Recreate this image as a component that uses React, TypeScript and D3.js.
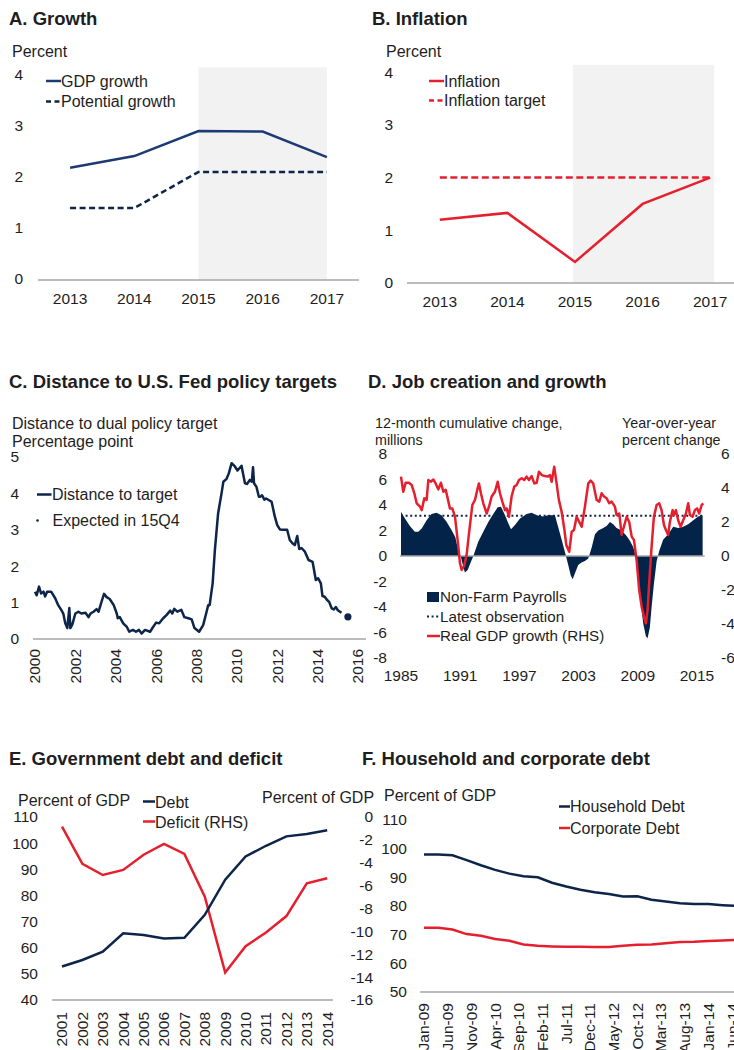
import React from 'react';
import * as d3 from 'd3';

const FONT = '"Liberation Sans", Arial, Helvetica, sans-serif';
const NAVY = '#1d3a72';
const DNAVY = '#0c2549';
const RED = '#e5202e';
const AXIS = '#a6a6a6';
const SHADE = '#f2f2f2';
const TXT = '#1e1e1e';

// ---------- Panel A: Growth ----------
const yearsAB = ['2013', '2014', '2015', '2016', '2017'];
const gdpGrowth = [2.2, 2.43, 2.92, 2.91, 2.41];
const potentialGrowth = [1.41, 1.41, 2.12, 2.12, 2.12];
const ticksAB = [0, 1, 2, 3, 4];

// ---------- Panel B: Inflation ----------
const inflation = [1.2, 1.33, 0.4, 1.5, 2.0];
const inflationTarget = [2, 2, 2, 2, 2];

// ---------- Panel C: Distance to Fed targets ----------
const distanceToTarget: [number, number][] = [
  [2000.0, 1.3], [2000.08, 1.2], [2000.2, 1.44], [2000.3, 1.25], [2000.42, 1.3], [2000.5, 1.17],
  [2000.6, 1.3], [2000.8, 1.3], [2001.0, 1.12], [2001.15, 0.93], [2001.3, 0.8], [2001.4, 0.7],
  [2001.5, 0.43], [2001.6, 0.3], [2001.7, 0.85], [2001.75, 0.3], [2001.85, 0.4], [2002.0, 0.7],
  [2002.15, 0.75], [2002.3, 0.7], [2002.5, 0.72], [2002.65, 0.6], [2002.75, 0.7], [2002.9, 0.75],
  [2003.05, 0.82], [2003.15, 0.75], [2003.3, 1.03], [2003.42, 1.24], [2003.55, 1.15], [2003.7, 1.1],
  [2003.9, 0.93], [2004.05, 0.7], [2004.1, 0.57], [2004.2, 0.6], [2004.37, 0.43], [2004.55, 0.33],
  [2004.67, 0.2], [2004.85, 0.25], [2005.0, 0.2], [2005.15, 0.25], [2005.28, 0.15], [2005.45, 0.25],
  [2005.7, 0.2], [2005.85, 0.33], [2006.0, 0.45], [2006.15, 0.43], [2006.35, 0.57], [2006.5, 0.65],
  [2006.7, 0.78], [2006.8, 0.7], [2006.9, 0.83], [2007.05, 0.75], [2007.25, 0.8], [2007.4, 0.6],
  [2007.6, 0.57], [2007.76, 0.54], [2007.9, 0.3], [2008.13, 0.2], [2008.33, 0.38], [2008.5, 0.75],
  [2008.58, 0.93], [2008.65, 0.93], [2008.8, 1.53], [2008.91, 2.44], [2009.07, 3.45], [2009.24, 4.0],
  [2009.33, 4.32], [2009.49, 4.4], [2009.6, 4.55], [2009.74, 4.83], [2009.9, 4.74], [2010.03, 4.63],
  [2010.23, 4.76], [2010.4, 4.28], [2010.5, 4.26], [2010.64, 4.37], [2010.74, 4.32], [2010.8, 4.72],
  [2010.85, 4.28], [2010.97, 4.18], [2011.09, 3.91], [2011.17, 3.91], [2011.25, 3.95], [2011.36, 3.83],
  [2011.45, 3.86], [2011.72, 3.77], [2011.88, 3.36], [2012.0, 3.13], [2012.13, 3.01], [2012.3, 3.0],
  [2012.49, 3.0], [2012.62, 2.72], [2012.75, 2.63], [2012.87, 2.58], [2012.99, 2.83], [2013.09, 2.47],
  [2013.2, 2.5], [2013.37, 2.4], [2013.55, 2.17], [2013.75, 2.12], [2013.91, 1.62], [2014.02, 1.67],
  [2014.16, 1.53], [2014.24, 1.18], [2014.35, 1.16], [2014.47, 1.07], [2014.57, 1.02], [2014.7, 0.84],
  [2014.8, 0.81], [2014.9, 0.88], [2015.0, 0.79], [2015.18, 0.72],
];
const expected15Q4: [number, number] = [2015.5, 0.61];
const ticksCY = [0, 1, 2, 3, 4, 5];
const ticksCX = [2000, 2002, 2004, 2006, 2008, 2010, 2012, 2014, 2016];

// ---------- Panel D: Job creation and growth ----------
const nonFarmPayrolls: [number, number][] = [
  [1985.0, 3.47], [1985.4, 2.95], [1985.9, 2.35], [1986.4, 1.9], [1986.75, 1.9], [1987.1, 2.15],
  [1987.6, 2.8], [1988.1, 3.29], [1988.6, 3.4], [1989.1, 3.2], [1989.6, 2.7], [1990.1, 2.05],
  [1990.5, 1.5], [1990.8, 0.47], [1991.08, -0.1], [1991.31, -0.84], [1991.48, -1.3], [1991.76, -1.1],
  [1991.99, -0.65], [1992.33, 0], [1992.83, 1.12], [1993.34, 1.9], [1993.85, 2.67], [1994.35, 3.3],
  [1994.8, 3.82], [1995.13, 3.87], [1995.54, 3.2], [1995.87, 2.57], [1996.15, 2.1], [1996.55, 2.43],
  [1997.06, 2.95], [1997.74, 3.3], [1998.24, 3.4], [1998.75, 3.2], [1999.42, 3.1], [1999.92, 3.2],
  [2000.6, 3.2], [2000.85, 2.5], [2001.28, 1.3], [2001.72, 0], [2001.95, -0.7], [2002.2, -1.5],
  [2002.4, -1.83], [2002.63, -1.35], [2002.96, -0.7], [2003.3, -0.5], [2003.64, -0.4], [2003.98, -0.2],
  [2004.32, 0.65], [2004.66, 1.7], [2005.0, 2.0], [2005.5, 2.2], [2005.84, 2.35], [2006.18, 2.67],
  [2006.51, 2.5], [2006.85, 2.2], [2007.36, 2.0], [2007.87, 1.57], [2008.2, 1.2], [2008.53, 0.7],
  [2008.8, 0], [2009.03, -1.6], [2009.27, -3.45], [2009.55, -5.3], [2009.82, -6.3], [2009.99, -6.45],
  [2010.22, -5.6], [2010.4, -4.0], [2010.63, -2.2], [2010.91, -0.4], [2011.17, 0.4], [2011.58, 1.3],
  [2012.08, 1.7], [2012.59, 2.3], [2013.09, 2.2], [2013.6, 2.3], [2014.11, 2.5], [2014.62, 2.8],
  [2015.13, 3.1], [2015.57, 3.2],
];
const latestObservation = 3.15;
const realGdpGrowth: [number, number][] = [
  [1985.0, 4.67], [1985.23, 3.78], [1985.47, 4.31], [1985.81, 4.31], [1986.08, 4.18], [1986.35, 3.69],
  [1986.59, 3.1], [1986.93, 2.9], [1987.1, 2.7], [1987.36, 3.39], [1987.6, 3.3], [1987.77, 4.47],
  [1988.04, 4.37], [1988.28, 4.5], [1988.51, 4.27], [1988.78, 3.92], [1989.05, 4.31], [1989.29, 3.78],
  [1989.53, 3.9], [1989.73, 3.39], [1989.96, 2.8], [1990.2, 2.8], [1990.47, 2.31], [1990.74, 0.94],
  [1990.98, -0.43], [1991.15, -0.82], [1991.42, -0.55], [1991.66, 0.1], [1991.89, 1.33], [1992.23, 3.0],
  [1992.5, 3.3], [1992.77, 3.98], [1992.9, 4.27], [1993.1, 3.69], [1993.34, 3.1], [1993.68, 2.5],
  [1993.92, 2.9], [1994.19, 3.5], [1994.52, 3.78], [1994.8, 4.37], [1995.03, 3.69], [1995.27, 3.2],
  [1995.54, 2.7], [1995.71, 2.8], [1995.94, 2.31], [1996.21, 3.5], [1996.48, 4.08], [1996.72, 4.18],
  [1996.96, 4.47], [1997.23, 4.57], [1997.49, 4.47], [1997.73, 4.67], [1997.97, 4.47], [1998.24, 4.7],
  [1998.51, 4.27], [1998.75, 4.31], [1998.98, 4.96], [1999.26, 4.76], [1999.59, 4.7], [1999.86, 4.67],
  [2000.1, 4.76], [2000.27, 4.37], [2000.53, 5.25], [2000.77, 4.27], [2001.0, 3.3], [2001.28, 2.6],
  [2001.55, 1.6], [2001.75, 0.65], [2002.05, 0.25], [2002.3, 1.43], [2002.53, 1.53], [2002.8, 2.31],
  [2003.07, 2.0], [2003.31, 1.72], [2003.64, 2.9], [2003.98, 4.27], [2004.22, 4.43], [2004.48, 4.27],
  [2004.83, 3.3], [2005.1, 3.2], [2005.33, 3.69], [2005.57, 3.5], [2005.84, 3.4], [2006.1, 3.1],
  [2006.35, 3.2], [2006.68, 2.9], [2006.85, 2.41], [2007.12, 2.5], [2007.36, 1.24], [2007.59, 1.72],
  [2007.87, 2.31], [2008.13, 2.0], [2008.38, 1.14], [2008.61, 0.94], [2008.88, -0.24], [2009.14, -2.0],
  [2009.39, -2.98], [2009.62, -3.57], [2009.82, -3.96], [2009.99, -3.18], [2010.15, -1.61], [2010.4, 0.55],
  [2010.63, 2.31], [2010.91, 3.0], [2011.17, 3.1], [2011.41, 2.7], [2011.65, 1.82], [2011.85, 1.53],
  [2012.08, 1.24], [2012.25, 2.0], [2012.53, 2.7], [2012.66, 2.41], [2012.86, 2.7], [2013.09, 2.1],
  [2013.34, 1.72], [2013.6, 2.1], [2013.88, 2.5], [2014.11, 3.1], [2014.28, 2.41], [2014.55, 2.31],
  [2014.79, 2.7], [2015.02, 2.8], [2015.22, 2.5], [2015.47, 3.0], [2015.63, 3.1],
];
const ticksDL = [-8, -6, -4, -2, 0, 2, 4, 6, 8];
const ticksDR = [-6, -4, -2, 0, 2, 4, 6];
const ticksDX = [1985, 1991, 1997, 2003, 2009, 2015];

// ---------- Panel E: Government debt and deficit ----------
const yearsE = ['2001', '2002', '2003', '2004', '2005', '2006', '2007', '2008', '2009', '2010', '2011', '2012', '2013', '2014'];
const govDebt = [52.8, 55.3, 58.5, 65.5, 64.9, 63.5, 63.8, 72.6, 86.0, 94.9, 99.0, 102.6, 103.5, 104.9];
const govDeficit = [-0.85, -4.1, -5.07, -4.63, -3.3, -2.36, -3.23, -6.96, -13.6, -11.3, -10.1, -8.66, -5.8, -5.36];
const ticksEL = [40, 50, 60, 70, 80, 90, 100, 110];
const ticksER = [-16, -14, -12, -10, -8, -6, -4, -2, 0];

// ---------- Panel F: Household and corporate debt ----------
// month index: 0 = Jan-09
const householdDebt: [number, number][] = [
  [0, 98.0], [3, 98.0], [6, 97.7], [9, 96.0], [12, 94.2], [15, 92.6], [18, 91.3], [21, 90.4],
  [24, 90.0], [27, 88.1], [30, 86.8], [33, 85.7], [36, 84.8], [39, 84.2], [42, 83.3], [45, 83.4],
  [48, 82.2], [51, 81.6], [54, 81.0], [57, 80.7], [60, 80.7], [63, 80.3], [66, 80.0],
];
const corporateDebt: [number, number][] = [
  [0, 72.4], [3, 72.4], [6, 71.8], [9, 70.2], [12, 69.6], [15, 68.5], [18, 67.9], [21, 66.6],
  [24, 66.1], [27, 65.9], [30, 65.8], [33, 65.8], [36, 65.7], [39, 65.7], [42, 66.1], [45, 66.5],
  [48, 66.6], [51, 67.0], [54, 67.4], [57, 67.5], [60, 67.8], [63, 68.0], [66, 68.2],
];
const monthLabelsF = ['Jan-09', 'Jun-09', 'Nov-09', 'Apr-10', 'Sep-10', 'Feb-11', 'Jul-11', 'Dec-11', 'May-12', 'Oct-12', 'Mar-13', 'Aug-13', 'Jan-14', 'Jun-14'];
const ticksFY = [50, 60, 70, 80, 90, 100, 110];

type TP = { x: number; y: number; size?: number; anchor?: string; weight?: string | number; children: React.ReactNode; transform?: string };
const T = ({ x, y, size = 16, anchor = 'start', weight = 'normal', children, transform }: TP) => (
  <text x={x} y={y} dy="0.35em" fontSize={size} textAnchor={anchor} fontWeight={weight} fill={TXT} fontFamily={FONT} transform={transform}>
    {children}
  </text>
);
const Title = ({ x, y, children }: { x: number; y: number; children: React.ReactNode }) => (
  <T x={x} y={y} size={18.5} weight="bold">{children}</T>
);

function PanelA() {
  const x = d3.scaleBand().domain(yearsAB).range([38, 359]);
  const cx = (d: string) => (x(d) as number) + x.bandwidth() / 2;
  const y = d3.scaleLinear().domain([0, 4]).range([280, 76]);
  const line = d3.line<number>().x((_, i) => cx(yearsAB[i])).y((d) => y(d));
  return (
    <g>
      <rect x={cx('2015')} y={y(4.17)} width={cx('2017') - cx('2015')} height={y(0) - y(4.17)} fill={SHADE} />
      <line x1={38} x2={359} y1={y(0)} y2={y(0)} stroke={AXIS} strokeWidth={1.5} />
      <path d={line(potentialGrowth) || ''} fill="none" stroke={DNAVY} strokeWidth={2.5} strokeDasharray="6,3.5" />
      <path d={line(gdpGrowth) || ''} fill="none" stroke={NAVY} strokeWidth={2.5} />
      <Title x={9} y={18.5}>A. Growth</Title>
      <T x={12} y={51}>Percent</T>
      {ticksAB.map((t) => <T key={t} x={23} y={y(t) - 1} size={15.5} anchor="end">{t}</T>)}
      {yearsAB.map((yr) => <T key={yr} x={cx(yr)} y={299} size={15.5} anchor="middle">{yr}</T>)}
      <line x1={46} x2={61} y1={81} y2={81} stroke={NAVY} strokeWidth={2.5} />
      <T x={61} y={81}>GDP growth</T>
      <line x1={46} x2={61} y1={101.5} y2={101.5} stroke={DNAVY} strokeWidth={2.5} strokeDasharray="5,3.5" />
      <T x={61} y={101.5}>Potential growth</T>
    </g>
  );
}

function PanelB() {
  const x = d3.scaleBand().domain(yearsAB).range([406, 744]);
  const cx = (d: string) => (x(d) as number) + x.bandwidth() / 2;
  const y = d3.scaleLinear().domain([0, 4]).range([283, 72.2]);
  const line = d3.line<number>().x((_, i) => cx(yearsAB[i])).y((d) => y(d));
  return (
    <g>
      <rect x={cx('2015') - 2} y={y(4.14)} width={cx('2017') - cx('2015') + 6} height={y(0) - y(4.14)} fill={SHADE} />
      <line x1={407} x2={734} y1={y(0)} y2={y(0)} stroke={AXIS} strokeWidth={1.5} />
      <path d={line(inflationTarget) || ''} fill="none" stroke={RED} strokeWidth={2.5} strokeDasharray="7,3.5" />
      <path d={line(inflation) || ''} fill="none" stroke={RED} strokeWidth={2.5} />
      <Title x={372} y={18.5}>B. Inflation</Title>
      <T x={386} y={51}>Percent</T>
      {ticksAB.map((t) => <T key={t} x={393} y={y(t)} size={15.5} anchor="end">{t}</T>)}
      {yearsAB.map((yr) => <T key={yr} x={cx(yr)} y={302} size={15.5} anchor="middle">{yr}</T>)}
      <line x1={429} x2={444} y1={81} y2={81} stroke={RED} strokeWidth={2.5} />
      <T x={444} y={81}>Inflation</T>
      <line x1={429} x2={444} y1={100.5} y2={100.5} stroke={RED} strokeWidth={2.5} strokeDasharray="5,3.5" />
      <T x={444} y={100.5}>Inflation target</T>
    </g>
  );
}

function PanelC() {
  const x = d3.scaleLinear().domain([2000, 2016]).range([35, 358]);
  const y = d3.scaleLinear().domain([0, 5]).range([639, 457]);
  const line = d3.line<[number, number]>().x((d) => x(d[0])).y((d) => y(d[1]));
  return (
    <g>
      <line x1={33} x2={366} y1={y(0)} y2={y(0)} stroke={AXIS} strokeWidth={1.5} />
      <path d={line(distanceToTarget) || ''} fill="none" stroke={DNAVY} strokeWidth={2.5} strokeLinejoin="round" />
      <circle cx={x(expected15Q4[0])} cy={y(expected15Q4[1])} r={3.6} fill={DNAVY} />
      <Title x={9} y={382}>C. Distance to U.S. Fed policy targets</Title>
      <T x={12} y={423}>Distance to dual policy target</T>
      <T x={12} y={441}>Percentage point</T>
      {ticksCY.map((t) => <T key={t} x={19} y={y(t)} size={15.5} anchor="end">{t}</T>)}
      {ticksCX.map((t) => (
        <T key={t} x={0} y={0} size={15.5} anchor="end" transform={`translate(${x(t)},649) rotate(-90)`}>{t}</T>
      ))}
      <line x1={37} x2={51.5} y1={494.5} y2={494.5} stroke={DNAVY} strokeWidth={2.5} />
      <T x={52} y={494.5}>Distance to target</T>
      <circle cx={37.5} cy={520.5} r={1.3} fill={DNAVY} />
      <T x={52.5} y={520.5}>Expected in 15Q4</T>
    </g>
  );
}

function PanelD() {
  const x = d3.scaleLinear().domain([1985, 2015]).range([401, 697]);
  const yL = d3.scaleLinear().domain([-8, 8]).range([658, 454]);
  const yR = d3.scaleLinear().domain([-6, 6]).range([658, 454]);
  const area = d3.area<[number, number]>().x((d) => x(d[0])).y0(yL(0)).y1((d) => yL(d[1]));
  const line = d3.line<[number, number]>().x((d) => x(d[0])).y((d) => yR(d[1]));
  const x0 = x(nonFarmPayrolls[0][0]);
  const x1 = x(nonFarmPayrolls[nonFarmPayrolls.length - 1][0]);
  return (
    <g>
      <path d={area(nonFarmPayrolls) || ''} fill="#032348" />
      <line x1={x0 - 1} x2={x1 + 2} y1={yL(0)} y2={yL(0)} stroke={AXIS} strokeWidth={1.5} />
      <line x1={x0} x2={x1} y1={yL(latestObservation)} y2={yL(latestObservation)} stroke={DNAVY} strokeWidth={2} strokeDasharray="2,2.6" />
      <path d={line(realGdpGrowth) || ''} fill="none" stroke={RED} strokeWidth={2.5} strokeLinejoin="round" />
      <Title x={368} y={382}>D. Job creation and growth</Title>
      <T x={375} y={423} size={14.3}>12-month cumulative change,</T>
      <T x={375} y={440} size={14.3}>millions</T>
      <T x={622} y={423} size={14.3}>Year-over-year</T>
      <T x={622} y={440} size={14.3}>percent change</T>
      {ticksDL.map((t) => <T key={t} x={387} y={yL(t)} size={15.5} anchor="end">{t}</T>)}
      {ticksDR.map((t) => <T key={t} x={721} y={yR(t)} size={15.5}>{t}</T>)}
      {ticksDX.map((t) => <T key={t} x={x(t)} y={676} size={15.5} anchor="middle">{t}</T>)}
      <rect x={427} y={592} width={12} height={10} fill="#032348" />
      <T x={440} y={596.5} size={15.2}>Non-Farm Payrolls</T>
      <line x1={427} x2={440} y1={616.5} y2={616.5} stroke={DNAVY} strokeWidth={2} strokeDasharray="2,2.6" />
      <T x={440} y={616.5} size={15.2}>Latest observation</T>
      <line x1={427} x2={440} y1={636} y2={636} stroke={RED} strokeWidth={2.5} />
      <T x={440} y={636} size={15.2}>Real GDP growth (RHS)</T>
    </g>
  );
}

function PanelE() {
  const x = d3.scaleBand().domain(yearsE).range([51.8, 337.4]);
  const cx = (d: string) => (x(d) as number) + x.bandwidth() / 2;
  const yL = d3.scaleLinear().domain([40, 110]).range([1000, 817]);
  const yR = d3.scaleLinear().domain([-16, 0]).range([1000, 817]);
  const lineL = d3.line<number>().x((_, i) => cx(yearsE[i])).y((d) => yL(d));
  const lineR = d3.line<number>().x((_, i) => cx(yearsE[i])).y((d) => yR(d));
  return (
    <g>
      <line x1={52} x2={333} y1={1000} y2={1000} stroke={AXIS} strokeWidth={1.5} />
      <path d={lineR(govDeficit) || ''} fill="none" stroke={RED} strokeWidth={2.5} />
      <path d={lineL(govDebt) || ''} fill="none" stroke={DNAVY} strokeWidth={2.5} />
      <Title x={9} y={758.5}>E. Government debt and deficit</Title>
      <T x={18} y={800}>Percent of GDP</T>
      <T x={262} y={797}>Percent of GDP</T>
      {ticksEL.map((t) => <T key={t} x={38} y={yL(t)} size={15.5} anchor="end">{t}</T>)}
      {ticksER.map((t) => <T key={t} x={373} y={yR(t)} size={15.5} anchor="end">{t}</T>)}
      {yearsE.map((yr) => (
        <T key={yr} x={0} y={0} size={15.5} anchor="end" transform={`translate(${cx(yr)},1012) rotate(-90)`}>{yr}</T>
      ))}
      <line x1={143} x2={155} y1={801.5} y2={801.5} stroke={DNAVY} strokeWidth={2.5} />
      <T x={155} y={802}>Debt</T>
      <line x1={143} x2={155} y1={821.5} y2={821.5} stroke={RED} strokeWidth={2.5} />
      <T x={155} y={822}>Deficit (RHS)</T>
    </g>
  );
}

function PanelF() {
  const x = d3.scaleLinear().domain([0, 65]).range([424, 732.1]);
  const y = d3.scaleLinear().domain([50, 110]).range([992, 820]);
  const line = d3.line<[number, number]>().x((d) => x(d[0])).y((d) => y(d[1]));
  return (
    <g>
      <line x1={420} x2={734} y1={992} y2={992} stroke={AXIS} strokeWidth={1.5} />
      <path d={line(corporateDebt) || ''} fill="none" stroke={RED} strokeWidth={2.5} />
      <path d={line(householdDebt) || ''} fill="none" stroke={DNAVY} strokeWidth={2.5} />
      <Title x={362} y={758.5}>F. Household and corporate debt</Title>
      <T x={384} y={795}>Percent of GDP</T>
      {ticksFY.map((t) => <T key={t} x={407} y={y(t)} size={15.5} anchor="end">{t}</T>)}
      {monthLabelsF.map((m, i) => (
        <T key={m} x={0} y={0} size={15.5} anchor="end" transform={`translate(${x(i * 5)},1003) rotate(-90)`}>{m}</T>
      ))}
      <line x1={559} x2={570} y1={806.5} y2={806.5} stroke={DNAVY} strokeWidth={2.5} />
      <T x={570} y={806.5}>Household Debt</T>
      <line x1={559} x2={570} y1={828} y2={828} stroke={RED} strokeWidth={2.5} />
      <T x={570} y={828}>Corporate Debt</T>
    </g>
  );
}

export default function App() {
  return (
    <svg
      width={734}
      height={1050}
      viewBox="0 0 734 1050"
      style={{ position: 'absolute', left: 0, top: 0, background: '#ffffff', display: 'block' }}
      fontFamily={FONT}
    >
      <rect x={0} y={0} width={734} height={1050} fill="#ffffff" />
      <PanelA />
      <PanelB />
      <PanelC />
      <PanelD />
      <PanelE />
      <PanelF />
    </svg>
  );
}
